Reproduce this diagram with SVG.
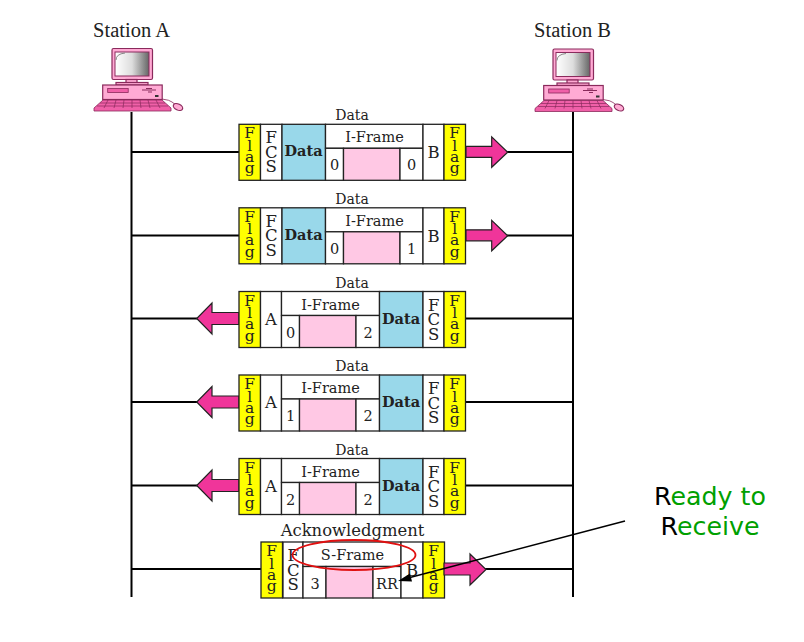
<svg xmlns="http://www.w3.org/2000/svg" width="804" height="642" viewBox="0 0 804 642">
<style>
.bg{fill:#fff}
.c{fill:#fff;stroke:#222;stroke-width:1.3}
.y{fill:#ffff00;stroke:#222;stroke-width:1.3}
.b{fill:#99d8ea;stroke:#222;stroke-width:1.3}
.p{fill:#ffc8e4;stroke:#222;stroke-width:1.3}
.ar{fill:#f0359a;stroke:#222;stroke-width:1.2}
.ln{stroke:#000;stroke-width:2;fill:none}
text{font-family:"DejaVu Serif",serif;fill:#222;text-anchor:middle}
.t{font-size:14.5px}
.f{font-size:15.5px}
.l{font-size:16.5px}
.x{font-size:14px}
.k{font-size:16.4px}
.d{font-size:14.5px;font-weight:bold}
.s{font-family:"Liberation Serif",serif;font-size:20.5px}
.r{font-family:"DejaVu Sans",sans-serif;font-size:25.3px;fill:#00a000}
.r tspan{fill:#000}
.pk{fill:#ffaad4;stroke:#8a2a5c;stroke-width:1.2}
.pd{fill:#f060a8;stroke:#8a2a5c;stroke-width:.8}
</style>
<defs>
<linearGradient id="scr" x1="0" y1="0" x2="1" y2="0"><stop offset="0" stop-color="#fff"/><stop offset=".5" stop-color="#ddd"/><stop offset="1" stop-color="#666"/></linearGradient>
<g id="pc">
<rect class="pk" x="112" y="48.5" width="40.5" height="31" rx="1.5"/>
<rect x="115" y="52" width="34" height="24" fill="url(#scr)" stroke="#8a2a5c"/>
<path d="M116 60Q116 54 125 53" fill="none" stroke="#888"/>
<rect class="pk" x="126" y="79.5" width="11" height="4"/>
<rect class="pk" x="116" y="82.5" width="32" height="2.5"/>
<rect class="pk" x="102.7" y="85" width="59.5" height="14.5"/>
<rect class="pd" x="107.7" y="88.5" width="20.5" height="4"/>
<path d="M142 90H156M146 88.5H152M148 92H152" stroke="#8a2a5c" fill="none"/>
<rect x="155" y="95" width="3.5" height="2" fill="#333"/>
<path class="pd" d="M103 100H162L171 108V111H94V108Z"/>
<path d="M100 103H165M97 106H168M108 100L104 108M116 100L114 108M124 100L123 108M132 100V108M140 100L141 108M148 100L150 108M156 100L160 108" stroke="#8a2a5c" stroke-width=".7" fill="none"/>
<path d="M162 99Q170 100 172 102L176 105" fill="none" stroke="#8a2a5c" stroke-width=".8"/>
<ellipse class="pk" cx="178" cy="107" rx="5" ry="3" transform="rotate(25 178 107)"/>
</g>
<g id="flag">
<rect class="y" x="0" y="0" width="21.5" height="56"/>
<text class="f" x="10.7" y="14">F</text><text class="f" x="10.7" y="26.5">l</text><text class="f" x="10.7" y="37.5">a</text><text class="f" x="10.7" y="49">g</text>
</g>
<g id="fcs">
<text class="l" x="10.7" y="19">F</text><text class="l" x="10.7" y="33.5">C</text><text class="l" x="10.7" y="48">S</text>
</g>
<g id="rframe">
<text class="x" x="352" y="-4">Data</text>
<use href="#flag" x="239"/>
<rect class="c" x="260.5" y="0" width="21.5" height="56"/><use href="#fcs" x="260.5"/>
<rect class="b" x="282" y="0" width="43.5" height="56"/><text class="d" x="303.5" y="32">Data</text>
<rect class="c" x="325.5" y="0" width="97.5" height="24"/><text class="t" x="374.5" y="18">I-Frame</text>
<rect class="c" x="325.5" y="24" width="18" height="32"/>
<rect class="p" x="343.5" y="24" width="56.5" height="32"/>
<rect class="c" x="400" y="24" width="23" height="32"/>
<rect class="c" x="423" y="0" width="21" height="56"/><text class="l" x="433.5" y="34">B</text>
<use href="#flag" x="444"/>
<path class="ar" d="M466 22H491.7V12.5L507.7 28L491.7 43V33H466Z"/>
</g>
<g id="lframe">
<text class="x" x="352" y="-4">Data</text>
<path class="ar" d="M239 21H212V11.5L196.7 27L212 42.5V33H239Z"/>
<use href="#flag" x="239"/>
<rect class="c" x="260.5" y="0" width="21" height="56"/><text class="l" x="271" y="33">A</text>
<rect class="c" x="281.5" y="0" width="98" height="24"/><text class="t" x="330.5" y="18">I-Frame</text>
<rect class="c" x="281.5" y="24" width="18" height="32"/>
<rect class="p" x="299.5" y="24" width="56.5" height="32"/>
<rect class="c" x="356" y="24" width="23.5" height="32"/>
<rect class="b" x="379.5" y="0" width="43.5" height="56"/><text class="d" x="401" y="32">Data</text>
<rect class="c" x="423" y="0" width="21" height="56"/><use href="#fcs" x="423"/>
<use href="#flag" x="444"/>
</g>
</defs>
<rect class="bg" width="804" height="642"/>
<g id="connectors">
<path class="ln" d="M131.5 112V597M573 112V597"/>
<path class="ln" d="M131.5 152H239M466 152H573M131.5 235.5H239M466 235.5H573M131.5 318.5H200M466 318.5H573M131.5 402H200M466 402H573M131.5 485.5H200M466 485.5H573M131.5 569H261M444 569H573"/>
</g>
<g id="station-a"><text class="s" x="131.5" y="37">Station A</text><use href="#pc"/></g>
<g id="station-b"><text class="s" x="572.5" y="37">Station B</text><use href="#pc" x="441" y="0.5"/></g>
<g id="frame-1" transform="translate(0 124.3)"><use href="#rframe"/><text class="t" x="334.5" y="46">0</text><text class="t" x="411.5" y="46">0</text></g>
<g id="frame-2" transform="translate(0 207.8)"><use href="#rframe"/><text class="t" x="334.5" y="46">0</text><text class="t" x="411.5" y="46">1</text></g>
<g id="frame-3" transform="translate(0 291.5)"><use href="#lframe"/><text class="t" x="290.5" y="46">0</text><text class="t" x="368" y="46">2</text></g>
<g id="frame-4" transform="translate(0 375)"><use href="#lframe"/><text class="t" x="290.5" y="46">1</text><text class="t" x="368" y="46">2</text></g>
<g id="frame-5" transform="translate(0 458.5)"><use href="#lframe"/><text class="t" x="290.5" y="46">2</text><text class="t" x="368" y="46">2</text></g>
<g id="frame-6" transform="translate(0 542)">
<text class="k" x="352.5" y="-6">Acknowledgment</text>
<use href="#flag" x="261"/>
<rect class="c" x="283" y="0" width="20" height="56"/><use href="#fcs" x="282.5"/>
<rect class="c" x="303" y="0" width="98" height="24.5"/><text class="t" x="352.5" y="18">S-Frame</text>
<rect class="c" x="303" y="24.5" width="23" height="31.5"/><text class="t" x="315" y="47">3</text>
<rect class="p" x="326" y="24.5" width="47" height="31.5"/>
<rect class="c" x="373" y="24.5" width="28" height="31.5"/><text class="t" x="387" y="47">RR</text>
<rect class="c" x="401" y="0" width="22" height="56"/><text class="l" x="412" y="34">B</text>
<use href="#flag" x="423"/>
<path class="ar" d="M444 21H470V12L486 27.5L470 43V33H444Z"/>
</g>
<g id="callout">
<ellipse cx="354" cy="555" rx="61.5" ry="15" fill="none" stroke="#e01010" stroke-width="1.8"/>
<path d="M625 521L408 578" stroke="#000" stroke-width="1.5" fill="none"/>
<path d="M398 581L410 573.5L412 581.5Z" fill="#000"/>
<text class="r" x="710" y="505"><tspan>R</tspan>eady to</text>
<text class="r" x="710" y="535"><tspan>R</tspan>eceive</text>
</g>
</svg>
